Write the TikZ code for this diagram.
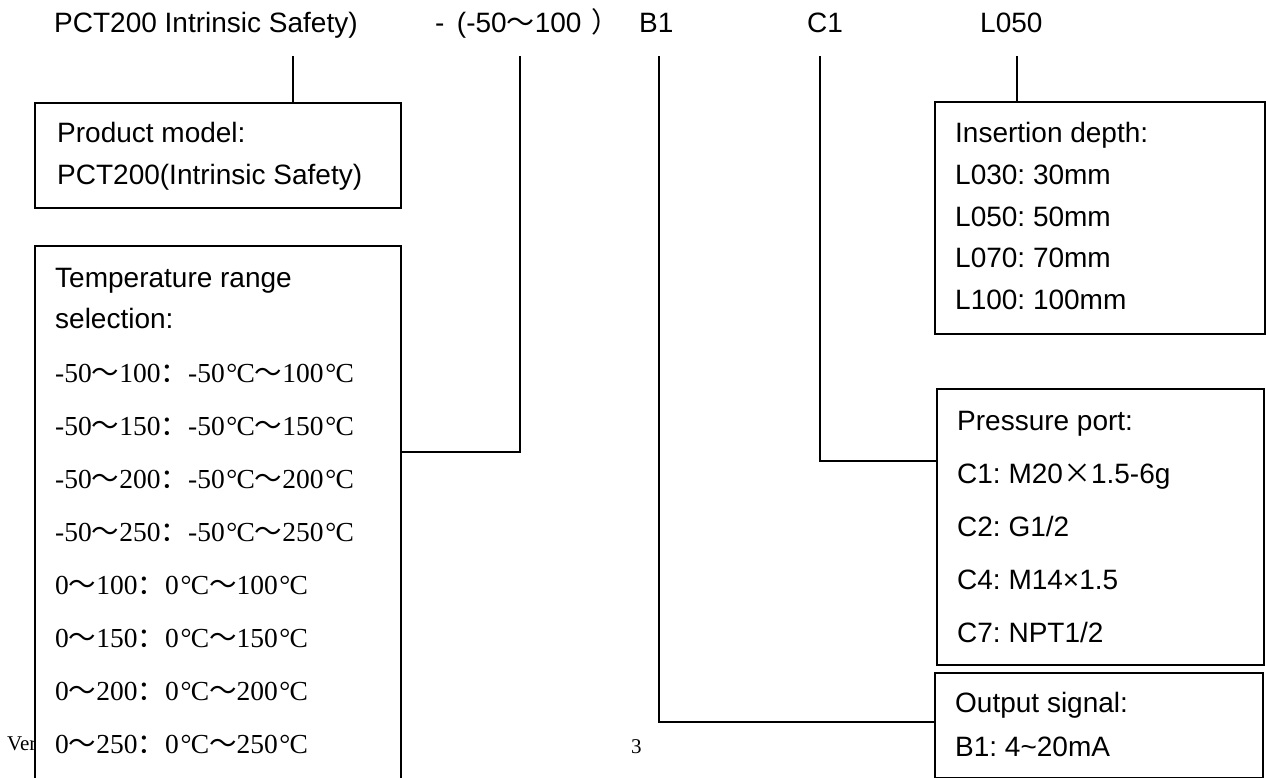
\documentclass[tikz,border=0pt]{standalone}
\usepackage{fontspec}
\setmainfont{Liberation Sans}
\newfontfamily\tnr{Liberation Serif}
\newfontfamily\cjk{Noto Sans CJK SC}
\newcommand\wav{{\cjk ～}}
\newcommand\fcol{{\cjk ：}}
\newcommand\degc{{\tnr\kern0.06em °\kern-0.03em C}}
\newcommand\frpar{{\cjk ）}}
\newcommand\fxx{{\cjk ×}}
\frenchspacing
\tikzset{
  boxn/.style={draw, line width=1.6pt, anchor=north west, inner sep=0pt, fill=white},
  txt/.style={anchor=base west, inner sep=0pt, font=\fontsize{28}{34}\selectfont\frenchspacing},
  tms/.style={anchor=base west, inner sep=0pt, font=\fontsize{27.5}{33}\selectfont\tnr},
  foot/.style={anchor=base west, inner sep=0pt, font=\fontsize{21}{25}\selectfont\tnr},
  conn/.style={line width=1.4pt}
}
\begin{document}
\begin{tikzpicture}[x=1pt,y=-1pt]
\useasboundingbox (0,0) rectangle (1266,778);
\fill[white] (0,0) rectangle (1266,778);
\clip (0,0) rectangle (1266,778);
% title
\node[txt] (t1) at (54,33) {PCT200 Intrinsic Safety)};
\node[txt] (t2) at (435,33) {-\, (-50\wav100\hspace{0.35em}\frpar};
\node[txt] (t3) at (639,33) {B1};
\node[txt] (t4) at (807,33) {C1};
\node[txt] (t5) at (980,33) {L050};
% footer (partly hidden)
\node[foot] (ft1) at (7,750) {Ver};
\node[foot] (ft2) at (631,753) {3};
% boxes
\node[boxn, minimum width=366pt, minimum height=105pt] (pm) at (34,102) {};
\node[boxn, minimum width=366pt, minimum height=580pt] (tr) at (34,245) {};
\node[boxn, minimum width=330pt, minimum height=232pt] (ins) at (934,101) {};
\node[boxn, minimum width=327pt, minimum height=276pt] (pp) at (936,388) {};
\node[boxn, minimum width=328pt, minimum height=105pt] (out) at (934,672) {};
% box texts
\node[txt] (pm1) at (57,143) {Product model:};
\node[txt] (pm2) at (57,185) {PCT200(Intrinsic Safety)};
\node[txt] (tr1) at (55,287) {Temperature range};
\node[txt] (tr2) at (55,328) {selection:};
\node[tms] (d1) at (55,382) {-50\wav100\fcol-50\degc\wav100\degc};
\node[tms] (d2) at (55,435) {-50\wav150\fcol-50\degc\wav150\degc};
\node[tms] (d3) at (55,488) {-50\wav200\fcol-50\degc\wav200\degc};
\node[tms] (d4) at (55,541) {-50\wav250\fcol-50\degc\wav250\degc};
\node[tms] (d5) at (55,594) {0\wav100\fcol0\degc\wav100\degc};
\node[tms] (d6) at (55,647) {0\wav150\fcol0\degc\wav150\degc};
\node[tms] (d7) at (55,700) {0\wav200\fcol0\degc\wav200\degc};
\node[tms] (d8) at (55,753) {0\wav250\fcol0\degc\wav250\degc};
\node[txt] (i1) at (955,143) {Insertion depth:};
\node[txt] (i2) at (955,185) {L030: 30mm};
\node[txt] (i3) at (955,226) {L050: 50mm};
\node[txt] (i4) at (955,267) {L070: 70mm};
\node[txt] (i5) at (955,309) {L100: 100mm};
\node[txt] (p1) at (957,430) {Pressure port:};
\node[txt] (p2) at (957,483) {C1: M20\fxx1.5-6g};
\node[txt] (p3) at (957,536) {C2: G1/2};
\node[txt] (p4) at (957,589) {C4: M14×1.5};
\node[txt] (p5) at (957,642) {C7: NPT1/2};
\node[txt] (o1) at (955,712) {Output signal:};
\node[txt] (o2) at (955,756) {B1: 4\textasciitilde20mA};
% connector anchors
\coordinate (a1) at (293,56);
\coordinate (a2) at (520,56);
\coordinate (a3) at (659,56);
\coordinate (a4) at (820,56);
\coordinate (a5) at (1017,56);
\coordinate (k2) at (520,452);
\coordinate (k3) at (659,722);
\coordinate (k4) at (820,461);
\draw[conn] (a1) -- (a1 |- pm.north);
\draw[conn] (a2) -- (k2) -- (k2 -| tr.east);
\draw[conn] (a3) -- (k3) -- (k3 -| out.west);
\draw[conn] (a4) -- (k4) -- (k4 -| pp.west);
\draw[conn] (a5) -- (a5 |- ins.north);
\end{tikzpicture}
\end{document}
